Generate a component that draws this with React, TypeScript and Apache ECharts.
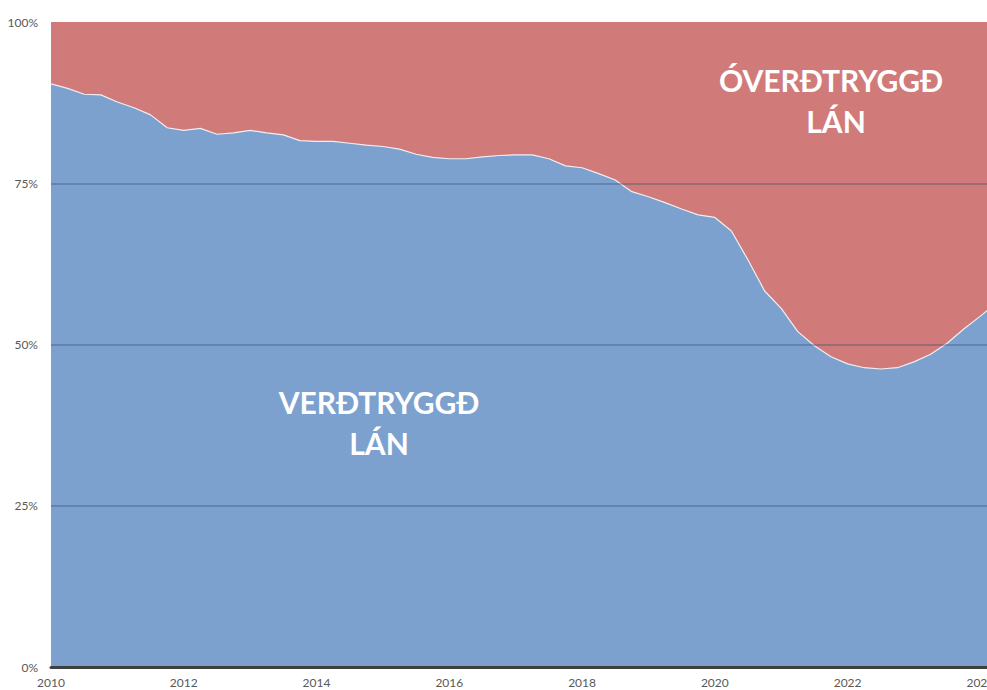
import React, { useEffect, useRef } from "react";
import * as echarts from "echarts";

// Quarterly observations, starting 2010 Q1
const quarters: string[] = [
  "2010Q1","2010Q2","2010Q3","2010Q4",
  "2011Q1","2011Q2","2011Q3","2011Q4",
  "2012Q1","2012Q2","2012Q3","2012Q4",
  "2013Q1","2013Q2","2013Q3","2013Q4",
  "2014Q1","2014Q2","2014Q3","2014Q4",
  "2015Q1","2015Q2","2015Q3","2015Q4",
  "2016Q1","2016Q2","2016Q3","2016Q4",
  "2017Q1","2017Q2","2017Q3","2017Q4",
  "2018Q1","2018Q2","2018Q3","2018Q4",
  "2019Q1","2019Q2","2019Q3","2019Q4",
  "2020Q1","2020Q2","2020Q3","2020Q4",
  "2021Q1","2021Q2","2021Q3","2021Q4",
  "2022Q1","2022Q2","2022Q3","2022Q4",
  "2023Q1","2023Q2","2023Q3","2023Q4",
  "2024Q1","2024Q2",
];

// Share of indexed (verðtryggð) loans, %
const verdtryggd: number[] = [
  90.4, 89.7, 88.8, 88.7,
  87.6, 86.7, 85.6, 83.6,
  83.2, 83.5, 82.6, 82.8,
  83.2, 82.8, 82.5, 81.6,
  81.5, 81.5, 81.2, 80.9,
  80.7, 80.3, 79.5, 79.0,
  78.8, 78.8, 79.1, 79.3,
  79.4, 79.4, 78.8, 77.7,
  77.4, 76.5, 75.5, 73.7,
  72.9, 72.0, 71.0, 70.1,
  69.7, 67.6, 63.1, 58.3,
  55.6, 52.0, 49.8, 48.1,
  47.0, 46.4, 46.2, 46.4,
  47.3, 48.5, 50.2, 52.4,
  54.4, 56.5,
];

// Share of non-indexed (óverðtryggð) loans = remainder of 100%
const overdtryggd: number[] = verdtryggd.map((v) => +(100 - v).toFixed(1));

const yTicks = [0, 25, 50, 75, 100];
const xMin = 2010;
const xMax = 2024.1;

function quarterToX(q: string): number {
  const y = parseInt(q.slice(0, 4), 10);
  const n = parseInt(q.slice(5), 10);
  return y + (n - 1) / 4;
}

export default function App() {
  const ref = useRef<HTMLDivElement>(null);

  useEffect(() => {
    if (!ref.current) return;
    document.body.style.margin = "0";
    document.body.style.overflow = "hidden";
    const chart = echarts.init(ref.current, undefined, { renderer: "svg", width: 987, height: 690 });
    const xs = quarters.map(quarterToX);
    // cumulative top of the stacked (100%) chart
    const cumTop = verdtryggd.map((v, i) => +(v + overdtryggd[i]).toFixed(1));
    const font = "Lato, 'Open Sans', sans-serif";
    const gridColor = "rgba(45,70,115,0.32)";
    const bigText = (text: string, x: number, y: number) => ({
      type: "text",
      x,
      y,
      z: 10,
      style: {
        text,
        fill: "#ffffff",
        font: `bold 30px ${font}`,
        textAlign: "center",
        textVerticalAlign: "middle",
      },
    });
    chart.setOption({
      animation: false,
      backgroundColor: "#ffffff",
      grid: {
        left: 51,
        right: 0,
        top: 22,
        bottom: 23,
        containLabel: false,
        outerBoundsMode: "none",
      },
      xAxis: {
        type: "value",
        min: xMin,
        max: xMax,
        interval: 2,
        axisLine: { show: true, onZero: false, lineStyle: { color: "#404040", width: 3 } },
        axisTick: { show: false },
        splitLine: { show: false },
        axisLabel: {
          color: "#595959",
          fontSize: 12,
          fontFamily: font,
          margin: 9,
          hideOverlap: false,
          formatter: (v: number) => (Number.isInteger(v) && v % 2 === 0 ? String(v) : ""),
        },
        z: 5,
      },
      yAxis: {
        type: "value",
        min: yTicks[0],
        max: yTicks[yTicks.length - 1],
        interval: 25,
        axisLine: { show: false },
        axisTick: { show: false },
        axisLabel: {
          color: "#595959",
          fontSize: 12,
          fontFamily: font,
          margin: 13,
          formatter: "{value}%",
        },
        splitLine: {
          show: true,
          lineStyle: {
            color: ["rgba(0,0,0,0)", gridColor, gridColor, gridColor, "rgba(0,0,0,0)"],
            width: 2,
          },
        },
        z: 4,
      },
      series: [
        {
          name: "Óverðtryggð lán",
          type: "line",
          symbol: "none",
          data: xs.map((x, i) => [x, cumTop[i]]),
          lineStyle: { width: 0 },
          areaStyle: { color: "#D07B79", opacity: 1 },
          z: 1,
        },
        {
          name: "Verðtryggð lán",
          type: "line",
          symbol: "none",
          data: xs.map((x, i) => [x, verdtryggd[i]]),
          lineStyle: { color: "rgba(255,255,255,0.85)", width: 1.2 },
          areaStyle: { color: "#7CA1CE", opacity: 1 },
          z: 2,
        },
      ],
      graphic: [
        bigText("VERÐTRYGGÐ", 379, 402),
        bigText("LÁN", 379, 443),
        bigText("ÓVERÐTRYGGÐ", 831, 80),
        bigText("LÁN", 836, 121),
      ],
    });
    return () => chart.dispose();
  }, []);

  return <div ref={ref} style={{ width: 987, height: 690 }} />;
}
